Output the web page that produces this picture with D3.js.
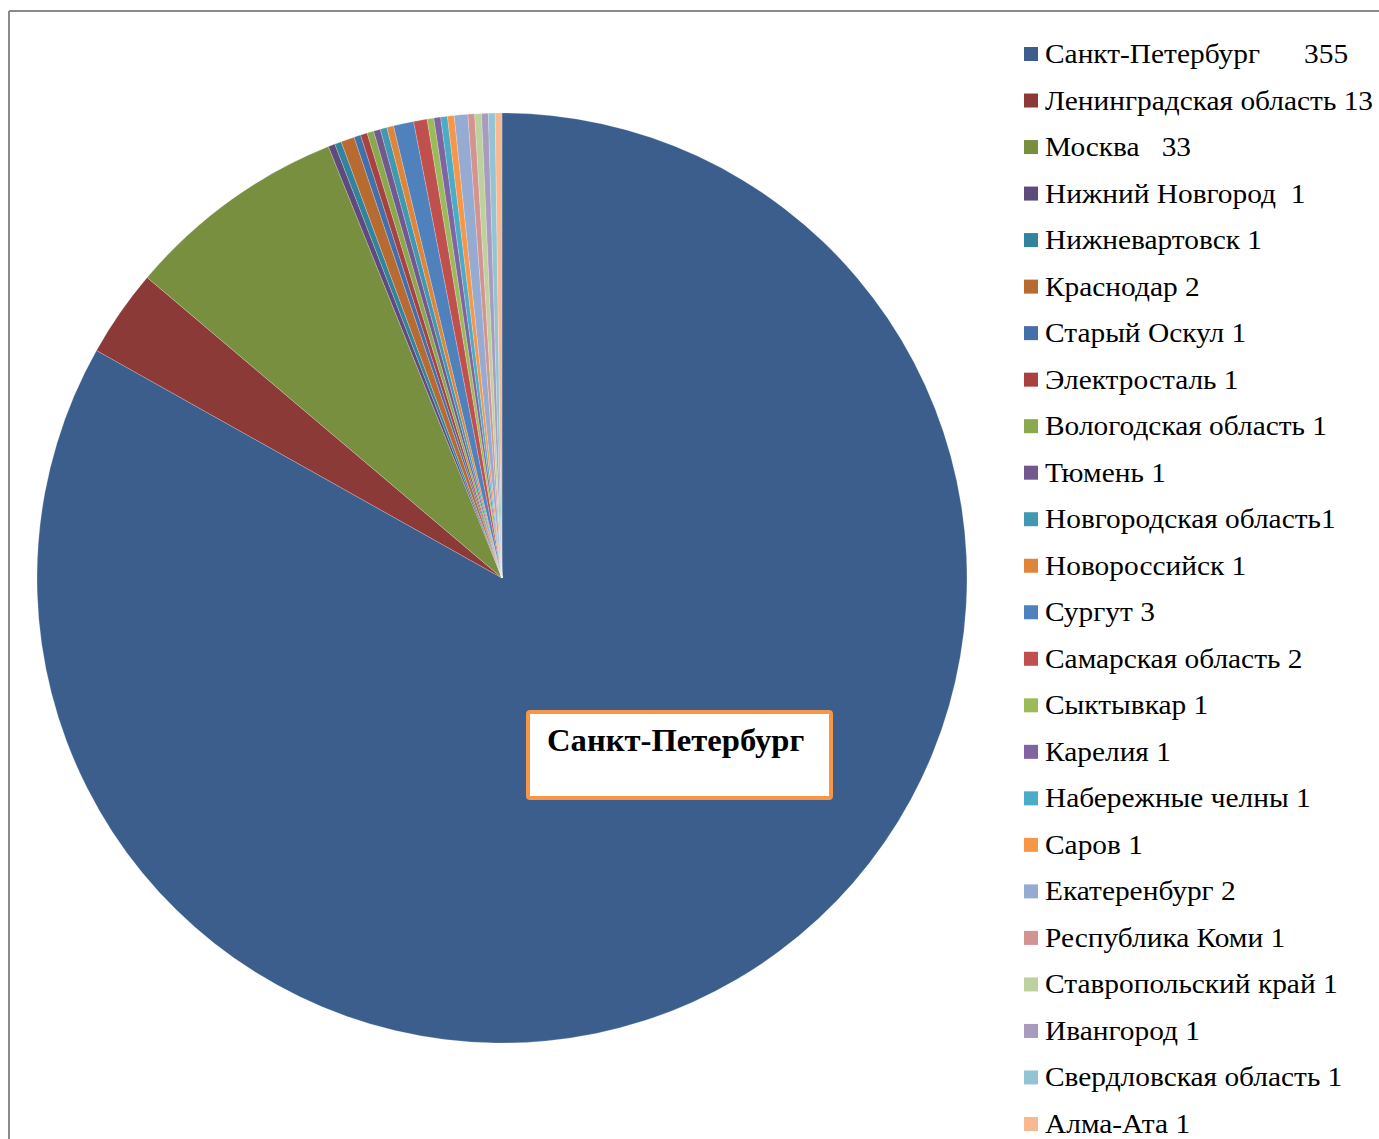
<!DOCTYPE html>
<html>
<head>
<meta charset="utf-8">
<script src="https://cdn.jsdelivr.net/npm/d3@7"></script>
<style>
  body { margin: 0; background: #fff; }
  svg { display: block; }
  text { font-family: "Liberation Serif", "Times New Roman", serif; }
</style>
</head>
<body>
<svg id="chart" width="1379" height="1139"></svg>
<script>
'use strict'

// ---------------------------------------------------------------- data
let cities = [
  'Санкт-Петербург', 'Ленинградская область', 'Москва', 'Нижний Новгород',
  'Нижневартовск', 'Краснодар', 'Старый Оскул', 'Электросталь',
  'Вологодская область', 'Тюмень', 'Новгородская область', 'Новороссийск',
  'Сургут', 'Самарская область', 'Сыктывкар', 'Карелия',
  'Набережные челны', 'Саров', 'Екатеренбург', 'Республика Коми',
  'Ставропольский край', 'Ивангород', 'Свердловская область', 'Алма-Ата'
]
let counts = [355, 13, 33, 1, 1, 2, 1, 1, 1, 1, 1, 1, 3, 2, 1, 1, 1, 1, 2, 1, 1, 1, 1, 1]
// legend texts as printed (spacing kept from the original)
let legendLabels = [
  'Санкт-Петербург      355', 'Ленинградская область 13', 'Москва   33', 'Нижний Новгород  1',
  'Нижневартовск 1', 'Краснодар 2', 'Старый Оскул 1', 'Электросталь 1',
  'Вологодская область 1', 'Тюмень 1', 'Новгородская область1', 'Новороссийск 1',
  'Сургут 3', 'Самарская область 2', 'Сыктывкар 1', 'Карелия 1',
  'Набережные челны 1', 'Саров 1', 'Екатеренбург 2', 'Республика Коми 1',
  'Ставропольский край 1', 'Ивангород 1', 'Свердловская область 1', 'Алма-Ата 1'
]
let palette = [
  '#3b5e8c', '#8b3a38', '#778f3f', '#5e4a7b', '#31849b', '#b86b30',
  '#4470a9', '#a9423f', '#8aa84d', '#72588f', '#4099b1', '#df8539',
  '#4f81bd', '#c0504d', '#9bbb59', '#8064a2', '#4bacc6', '#f79646',
  '#95abd2', '#d39391', '#bcd19b', '#a99bc0', '#92c4d4', '#f9b990'
]
let calloutLabel = 'Санкт-Петербург'

let svg = d3.select('#chart')

// --------------------------------------------------------------------
// ------------------------------------------------------ FRAME -------
svg.append('line')
  .attr('x1', 9).attr('y1', 11).attr('x2', 1379).attr('y2', 11)
  .attr('stroke', '#8a8a8a').attr('stroke-width', 2)
svg.append('line')
  .attr('x1', 9).attr('y1', 11).attr('x2', 9).attr('y2', 1139)
  .attr('stroke', '#8a8a8a').attr('stroke-width', 2)

// --------------------------------------------------------------------
// -------------------------------------------------------- PIE -------
let cx = 502, cy = 578, radius = 465

let colorScale = d3.scaleOrdinal().domain(cities).range(palette)

let pie = d3.pie().sort(null).value(d => d.value)
let arc = d3.arc().innerRadius(0).outerRadius(radius)

let pieData = pie(cities.map((c, i) => ({ name: c, value: counts[i] })))

let pieG = svg.append('g')
  .attr('transform', 'translate(' + cx + ',' + cy + ')')

pieG.selectAll('path').data(pieData)
  .enter().append('path')
    .attr('d', arc)
    .attr('fill', d => colorScale(d.data.name))
    .attr('stroke', '#ffffff')
    .attr('stroke-opacity', 0.35)
    .attr('stroke-width', 0.6)

// ----- callout label
let callout = svg.append('g').attr('transform', 'translate(528,712)')
callout.append('rect')
  .attr('width', 303).attr('height', 86)
  .attr('rx', 2)
  .attr('fill', '#ffffff')
  .attr('stroke', '#f79646')
  .attr('stroke-width', 4)
callout.append('text')
  .attr('transform', 'translate(19,39) scale(1.02,1)')
  .attr('font-size', 32)
  .attr('font-weight', 'bold')
  .attr('fill', '#000')
  .text(calloutLabel)

// --------------------------------------------------------------------
// ----------------------------------------------------- LEGEND -------
let legendY = d3.scalePoint()
  .domain(cities)
  .range([54, 1124])

let legend = svg.append('g')
let rows = legend.selectAll('g').data(cities)
  .enter().append('g')
    .attr('transform', d => 'translate(1024,' + legendY(d) + ')')

rows.append('rect')
  .attr('x', 0).attr('y', -7)
  .attr('width', 14).attr('height', 14)
  .attr('fill', d => colorScale(d))

rows.append('text')
  .attr('transform', 'translate(21,9) scale(1.05,1)')
  .attr('font-size', 28)
  .attr('fill', '#000')
  .style('white-space', 'pre')
  .text((d, i) => legendLabels[i])
</script>
</body>
</html>
